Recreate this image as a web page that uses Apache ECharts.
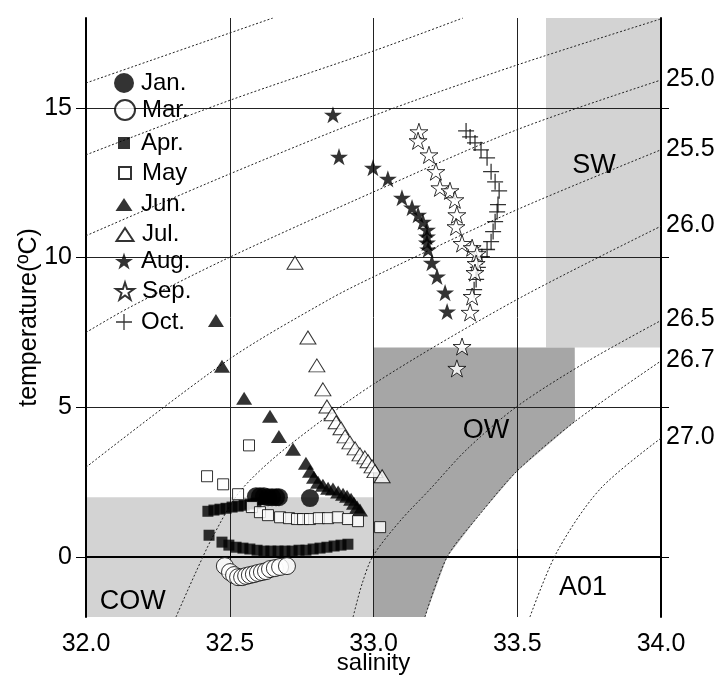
<!DOCTYPE html>
<html><head><meta charset="utf-8">
<script src="https://cdn.jsdelivr.net/npm/echarts@6/dist/echarts.min.js"></script>
<style>html,body{margin:0;padding:0;background:#fff}#c{width:718px;height:679px}</style>
</head><body><div id="c"></div>
<script>
// ---------- data (salinity, temperature) ----------
const jan = [[32.591,2.03],[32.605,2.03],[32.619,2.03],[32.633,2.0],[32.647,2.0],[32.661,2.0],[32.671,2.0],[32.779,1.97]];
const mar = [[32.483,-0.3],[32.501,-0.5],[32.515,-0.6],[32.529,-0.67],[32.543,-0.67],[32.557,-0.63],[32.570,-0.6],[32.584,-0.57],[32.598,-0.53],[32.612,-0.5],[32.626,-0.47],[32.640,-0.4],[32.657,-0.37],[32.675,-0.33],[32.699,-0.3]];
const apr = [[32.428,0.73],
  [32.424,1.53],[32.445,1.57],[32.466,1.6],[32.487,1.63],[32.508,1.67],[32.529,1.7],[32.550,1.73],[32.570,1.77],[32.591,1.8],
  [32.473,0.5],[32.497,0.4],[32.522,0.33],[32.546,0.3],[32.570,0.27],[32.595,0.23],[32.619,0.2],[32.643,0.2],[32.668,0.2],[32.692,0.2],[32.717,0.2],[32.741,0.23],[32.765,0.23],[32.790,0.27],[32.814,0.3],[32.838,0.33],[32.863,0.37],[32.887,0.4],[32.911,0.43]];
const may = [[32.421,2.7],[32.477,2.43],[32.529,2.1],[32.567,3.73],[32.577,1.67],[32.605,1.5],[32.633,1.4],[32.675,1.33],[32.706,1.3],[32.734,1.27],[32.755,1.27],[32.779,1.27],[32.810,1.3],[32.842,1.3],[32.876,1.33],[32.911,1.27],[32.946,1.2],[33.023,1.0]];
const jun = [[32.452,7.9],[32.473,6.37],[32.550,5.3],[32.640,4.7],[32.671,4.03],[32.720,3.6],[32.765,3.13],[32.779,2.87],[32.793,2.67],[32.807,2.5],[32.824,2.4],[32.842,2.3],[32.859,2.27],[32.877,2.17],[32.894,2.1],[32.908,2.03],[32.922,1.93],[32.932,1.8],[32.943,1.67],[32.953,1.57]];
const jul = [[32.727,9.83],[32.772,7.33],[32.803,6.4],[32.824,5.6],[32.838,5.03],[32.856,4.77],[32.870,4.5],[32.887,4.3],[32.901,4.03],[32.918,3.83],[32.936,3.63],[32.953,3.43],[32.970,3.33],[32.981,3.2],[32.995,3.03],[33.005,2.87],[33.030,2.7]];
const aug = [[32.859,14.77],[32.880,13.37],[32.998,13.0],[33.050,12.63],[33.099,12.0],[33.134,11.67],[33.155,11.43],[33.172,11.2],[33.186,10.93],[33.186,10.7],[33.186,10.5],[33.190,10.27],[33.203,9.83],[33.221,9.37],[33.249,8.83],[33.256,8.2]];
const sep = [[33.158,14.2],[33.155,13.9],[33.193,13.43],[33.217,12.87],[33.231,12.33],[33.266,12.23],[33.283,11.93],[33.290,11.43],[33.287,11.03],[33.308,10.47],[33.343,10.33],[33.360,10.13],[33.357,9.8],[33.353,9.5],[33.343,8.7],[33.336,8.17],[33.308,7.03],[33.290,6.3]];
const oct = [[33.322,14.23],[33.336,14.03],[33.353,13.83],[33.374,13.6],[33.395,13.33],[33.409,12.87],[33.423,12.53],[33.437,12.23],[33.433,11.77],[33.430,11.53],[33.423,11.2],[33.416,10.87],[33.409,10.53],[33.395,10.27],[33.377,10.03],[33.363,9.67],[33.357,9.27],[33.350,8.93]];

// isopycnals (sigma-t)
const isoA = [[32.0,15.83],[32.65,18.0]];
const isoB = [[32.0,13.43],[32.494,15.23],[33.009,16.93],[33.311,18.0]];
const isoC = [[32.0,10.73],[32.494,12.77],[33.009,14.77],[33.499,16.43],[34.0,17.97]];
const iso250 = [[32.0,7.5],[32.15,8.33],[32.497,10.0],[33.009,12.23],[33.499,14.27],[34.0,15.93]];
const iso255 = [[32.0,3.0],[32.497,6.6],[32.845,8.6],[33.009,9.4],[33.499,11.6],[34.0,13.6]];
const iso260 = [[32.313,-2.0],[32.379,-0.57],[32.442,0.7],[32.536,2.2],[32.699,3.67],[33.009,5.83],[33.499,8.6],[34.0,11.05]];
const iso265 = [[32.929,-2.0],[32.96,-0.9],[32.998,0.03],[33.092,1.2],[33.197,2.27],[33.325,3.6],[33.499,5.03],[33.743,6.53],[34.0,7.9]];
const iso267 = [[33.179,-2.0],[33.256,0.0],[33.37,1.43],[33.499,2.87],[33.701,4.53],[34.0,6.55]];
const iso270 = [[33.544,-2.0],[33.638,0.17],[33.788,2.27],[34.0,3.97]];
const isoLabels = ['', '', '', '25.0', '25.5', '26.0', '26.5', '26.7', '27.0'];

// water-mass regions
const swRegion = [[33.6,7.0],[34.0,7.0],[34.0,18.0],[33.6,18.0]];
const owRegion = [[33.0,7.0],[33.7,7.0],[33.701,4.53],[33.499,2.87],[33.37,1.43],[33.256,0.0],[33.179,-2.0],[33.0,-2.0]];
const cowRegion = [[32.0,-2.0],[33.0,-2.0],[33.0,2.0],[32.0,2.0]];
const regionLabels = [[33.767,13.07,'SW'],[33.391,4.23,'OW'],[32.163,-1.47,'COW'],[33.729,-1.0,'A01']];

const xTicks = [32.0, 32.5, 33.0, 33.5, 34.0];
const yTicks = [0, 5, 10, 15];

// ---------- styling ----------
const FONT = "'Liberation Sans', Arial, Helvetica, sans-serif";
const STAR = 'path://M50,0 L61.23,34.55 L97.55,34.55 L68.17,55.9 L79.39,90.45 L50,69.1 L20.61,90.45 L31.83,55.9 L2.45,34.55 L38.77,34.55 Z';
const CROSS = 'path://M0,9.2 L20,9.2 L20,10.8 L0,10.8 Z M9.2,0 L10.8,0 L10.8,20 L9.2,20 Z';
const filled = {color:'#000', borderColor:'#000', borderWidth:0};
const open = {color:'#fff', borderColor:'#000', borderWidth:1};

const monthDefs = [
  {name:'Jan.', data:jan, symbol:'circle', size:18, style:filled, z:6, leg:[20,20]},
  {name:'Mar.', data:mar, symbol:'circle', size:17, style:open, z:7, leg:[20,20]},
  {name:'Apr.', data:apr, symbol:'rect', size:11, style:filled, z:5, leg:[12,12]},
  {name:'May', data:may, symbol:'rect', size:11, style:open, z:9, leg:[12,12]},
  {name:'Jun.', data:jun, symbol:'triangle', size:[16,13], style:filled, z:8, leg:[17,13]},
  {name:'Jul.', data:jul, symbol:'triangle', size:[16,13], style:open, z:8, leg:[17,13]},
  {name:'Aug.', data:aug, symbol:STAR, size:18, style:filled, z:8, leg:[18,18]},
  {name:'Sep.', data:sep, symbol:STAR, size:18, style:open, z:9, leg:[18,18]},
  {name:'Oct.', data:oct, symbol:CROSS, size:16, style:filled, z:8, leg:[16,16]}
];
const legendCY = [81, 108, 137, 167, 199, 229, 258, 288, 318];

const isoList = [isoA, isoB, isoC, iso250, iso255, iso260, iso265, iso267, iso270];

function regionSeries(poly, fill){
  return {type:'custom', z:1, silent:true, data:[poly[0]],
    renderItem:(params, api)=>({type:'polygon', shape:{points: poly.map(p=>api.coord(p))}, style:{fill: fill}})};
}

const series = [];
series.push(regionSeries(swRegion, '#d3d3d3'));
series.push(regionSeries(cowRegion, '#d3d3d3'));
series.push(regionSeries(owRegion, '#a6a6a6'));
isoList.forEach((d, i) => {
  series.push({type:'line', name:'iso'+i, data:d, smooth:0.3, showSymbol:false, symbol:'none', z:3, silent:true,
    lineStyle:{color:'#222', width:1, type:[2,2]},
    endLabel: isoLabels[i] ? {show:true, formatter: isoLabels[i], color:'#000', fontSize:25, fontFamily:FONT, distance:5, offset:[0,-1]} : {show:false}
  });
});
monthDefs.forEach(m => {
  series.push({type:'scatter', name:m.name, data:m.data, symbol:m.symbol, symbolSize:m.size, symbolKeepAspect:true,
    itemStyle:m.style, z:m.z});
});
series.push({type:'custom', z:20, silent:true, data:regionLabels.map(r=>[r[0], r[1]]),
  renderItem:(params, api)=>{
    const p = api.coord([api.value(0), api.value(1)]);
    return {type:'text', x:p[0], y:p[1], style:{text: regionLabels[params.dataIndex][2], fontSize:27, fontFamily:FONT, fill:'#000', align:'center', verticalAlign:'middle'}};
  }});

const legends = monthDefs.map((m, i) => {
  const w = m.leg[0], h = m.leg[1];
  return {data:[{name:m.name}], orient:'vertical', selectedMode:false, padding:0, itemGap:0,
    left: 124 - w/2, top: legendCY[i] - h/2, itemWidth:w, itemHeight:h,
    textStyle:{fontSize:24, fontFamily:FONT, color:'#000', padding:[0,0,0, 141 - (124 + w/2 + 5)]}};
});

const option = {
  animation:false,
  backgroundColor:'#fff',
  grid:{left:86, right:57, top:18, bottom:62, containLabel:false, outerBoundsMode:'none'},
  legend: legends,
  xAxis:[
    {type:'value', position:'bottom', min:32, max:34, interval:0.5, z:2,
     name:'salinity', nameLocation:'middle', nameGap:34, nameMoveOverlap:false,
     nameTextStyle:{fontSize:24, fontFamily:FONT, color:'#000'},
     axisLine:{show:true, lineStyle:{color:'#000', width:2}},
     axisTick:{show:false},
     axisLabel:{margin:15, fontSize:25, fontFamily:FONT, color:'#000', formatter:v=>v.toFixed(1), customValues:xTicks},
     splitLine:{show:true, lineStyle:{color:'#222', width:1}}},
    {type:'value', position:'top', min:32, max:34, interval:0.5, z:2,
     axisLine:{show:true, lineStyle:{color:'#000', width:2}},
     axisTick:{show:true, inside:false, length:8, lineStyle:{color:'#000', width:1}},
     axisLabel:{show:false}, splitLine:{show:false}}
  ],
  yAxis:[
    {type:'value', position:'left', min:-2, max:18, z:2,
     name:'temperature(ºC)', nameLocation:'middle', nameGap:44, nameRotate:90, nameMoveOverlap:false,
     nameTextStyle:{fontSize:25, fontFamily:FONT, color:'#000'},
     axisLine:{show:true, lineStyle:{color:'#000', width:2}},
     axisTick:{show:true, inside:false, length:10, customValues:yTicks, lineStyle:{color:'#000', width:1}},
     axisLabel:{margin:14, fontSize:25, fontFamily:FONT, color:'#000', customValues:yTicks},
     splitLine:{show:true, lineStyle:{color:'#222', width:1}}},
    {type:'value', position:'right', min:-2, max:18, z:2,
     axisLine:{show:true, lineStyle:{color:'#000', width:2}},
     axisTick:{show:true, inside:false, length:8, customValues:yTicks, lineStyle:{color:'#000', width:1}},
     axisLabel:{show:false}, splitLine:{show:false}}
  ],
  series: series
};
const chart = echarts.init(document.getElementById('c'), null, {renderer:'canvas'});
chart.setOption(option);
</script></body></html>
